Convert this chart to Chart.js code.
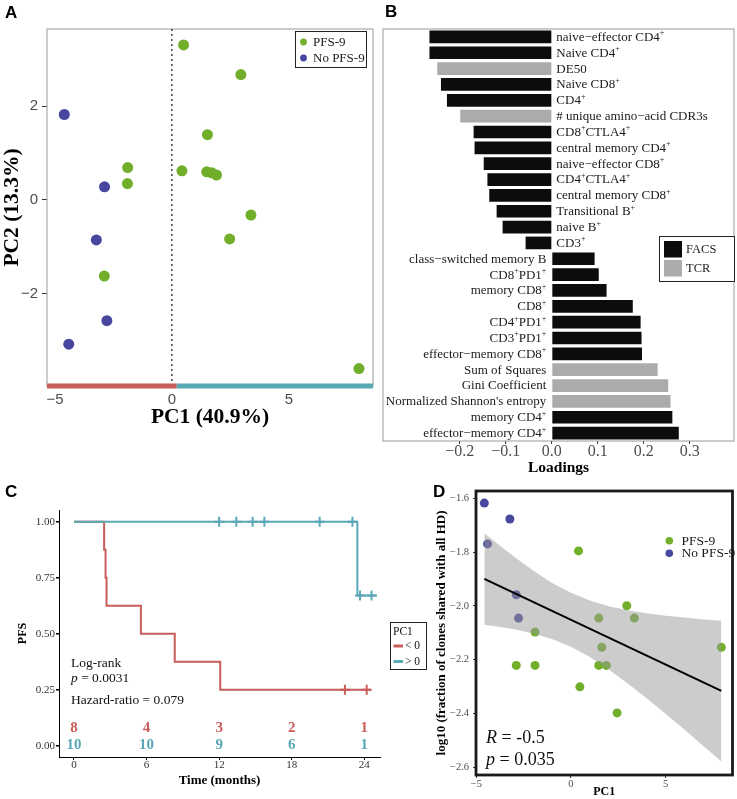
<!DOCTYPE html>
<html lang="en">
<head>
<meta charset="UTF-8">
<title>PCA, loadings, PFS and shared clones</title>
<style>
  body { margin: 0; background: #fff; width: 737px; height: 799px; position: relative; overflow: hidden; }
  canvas { position: absolute; }
</style>
</head>
<body>
<canvas id="pca" width="380" height="430" style="left:0;top:0"></canvas>
<canvas id="loadings" width="357" height="480" style="left:380px;top:0"></canvas>
<canvas id="km" width="430" height="329" style="left:0;top:470px"></canvas>
<canvas id="shared" width="309" height="329" style="left:428px;top:470px"></canvas>

<script src="https://cdn.jsdelivr.net/npm/chart.js@4"></script>
<script>
  // ---- A: PCA scores
  const pfsPC1   = [0.50, 2.95, 1.52, -1.89, -1.90, 0.43, 1.49, 1.70, 1.91, 3.38, 2.47, -2.89, 8.00];
  const pfsPC2   = [3.30, 2.67, 1.39, 0.69, 0.35, 0.62, 0.60, 0.58, 0.53, -0.32, -0.83, -1.62, -3.59];
  const noPfsPC1 = [-4.60, -2.88, -3.23, -2.78, -4.41];
  const noPfsPC2 = [1.82, 0.28, -0.85, -2.57, -3.07];
  const pcaXTicks = [-5, 0, 5];
  const pcaYTicks = [-2, 0, 2];
  const pcaXRange = [-5.34, 8.6];
  const pcaYRange = [-3.96, 3.64];
  const pcaSplit = 0.2;

  // ---- B: PC1 loadings
  const loadLabels = ['naive−effector CD4⁺', 'Naive CD4⁺', 'DE50', 'Naive CD8⁺', 'CD4⁺',
    '# unique amino−acid CDR3s', 'CD8⁺CTLA4⁺', 'central memory CD4⁺', 'naive−effector CD8⁺',
    'CD4⁺CTLA4⁺', 'central memory CD8⁺', 'Transitional B⁺', 'naive B⁺', 'CD3⁺',
    'class−switched memory B', 'CD8⁺PD1⁺', 'memory CD8⁺', 'CD8⁺', 'CD4⁺PD1⁺', 'CD3⁺PD1⁺',
    'effector−memory CD8⁺', 'Sum of Squares', 'Gini Coefficient', "Normalized Shannon's entropy",
    'memory CD4⁺', 'effector−memory CD4⁺'];
  const loadValues = [-0.266, -0.266, -0.249, -0.241, -0.228, -0.199, -0.170, -0.168, -0.148,
    -0.140, -0.136, -0.120, -0.107, -0.057, 0.093, 0.102, 0.119, 0.176, 0.193, 0.195,
    0.196, 0.230, 0.253, 0.258, 0.262, 0.276];
  const loadSource = ['FACS', 'FACS', 'TCR', 'FACS', 'FACS', 'TCR', 'FACS', 'FACS', 'FACS',
    'FACS', 'FACS', 'FACS', 'FACS', 'FACS', 'FACS', 'FACS', 'FACS', 'FACS', 'FACS', 'FACS',
    'FACS', 'TCR', 'TCR', 'TCR', 'FACS', 'FACS'];
  const loadTicks = [-0.2, -0.1, 0, 0.1, 0.2, 0.3];

  // ---- C: Kaplan-Meier PFS by PC1 sign
  const kmLowT  = [0, 2.49, 2.61, 2.69, 5.53, 8.33, 12.09, 24.54];
  const kmLowS  = [1, 0.875, 0.75, 0.625, 0.5, 0.375, 0.25, 0.25];
  const kmHighT = [0, 23.43, 25.04];
  const kmHighS = [1, 0.67, 0.67];
  const censLowT  = [22.4, 24.2];
  const censLowS  = [0.25, 0.25];
  const censHighT = [12.0, 13.42, 14.77, 15.74, 20.31, 23.02, 23.65, 24.6];
  const censHighS = [1, 1, 1, 1, 1, 1, 0.67, 0.67];
  const riskTimes = [0, 6, 12, 18, 24];
  const riskLow   = [8, 4, 3, 2, 1];
  const riskHigh  = [10, 10, 9, 6, 1];
  const kmXTicks = [0, 6, 12, 18, 24];
  const kmYTicks = [0, 0.25, 0.5, 0.75, 1];

  // ---- D: shared clones vs PC1
  const dPfsPC1    = [0.40, 2.95, 1.47, 3.35, -1.90, 1.63, 7.95, -2.89, -1.90, 1.47, 1.87, 0.47, 2.44];
  const dPfsShared = [-1.795, -1.999, -2.045, -2.045, -2.097, -2.154, -2.154, -2.221, -2.221, -2.221, -2.221, -2.301, -2.398];
  const dNoPfsPC1    = [-4.58, -3.23, -4.41, -2.89, -2.77];
  const dNoPfsShared = [-1.617, -1.676, -1.769, -1.958, -2.045];
  const fitX = [-4.58, 7.95];
  const fitY = [-1.899, -2.316];
  const bandX     = [-4.58, -4, -3, -2, -1, 0, 1, 2, 3, 4, 5, 6, 7, 7.95];
  const bandUpper = [-1.729, -1.762, -1.817, -1.868, -1.914, -1.951, -1.980, -2.001, -2.016, -2.027, -2.036, -2.043, -2.050, -2.055];
  const bandLower = [-2.070, -2.075, -2.087, -2.102, -2.123, -2.152, -2.190, -2.236, -2.288, -2.343, -2.401, -2.460, -2.521, -2.579];
  const dXTicks = [-5, 0, 5];
  const dYTicks = [-2.6, -2.4, -2.2, -2.0, -1.8, -1.6];

  const GREEN = '#71AE2A', BLUE = '#4747A0', RED = '#C95D5A', TEAL = '#5AA8B6';
  const SERIF = '"Liberation Serif", "Times New Roman", serif';
  const SANS = '"Liberation Sans", Arial, sans-serif';
  Chart.defaults.font.family = SERIF;
  Chart.defaults.animation = false;

  const pts = (xs, ys) => xs.map((x, i) => ({ x: x, y: ys[i] }));
  const minus = s => String(s).replace('-', '−');
  const fixTicks = list => scale => { scale.ticks = list.map(v => ({ value: v })); };

  // box round the plot panel
  function frame(color, width) {
    return {
      id: 'frame',
      beforeDatasetsDraw(chart) {
        const a = chart.chartArea, ctx = chart.ctx;
        ctx.save();
        ctx.strokeStyle = color;
        ctx.lineWidth = width;
        ctx.strokeRect(a.left, a.top, a.right - a.left, a.bottom - a.top);
        ctx.restore();
      }
    };
  }

  // free text; each item is a row of parts drawn left to right
  function textLayer(items) {
    return {
      id: 'textLayer',
      afterDraw(chart) {
        const ctx = chart.ctx;
        ctx.save();
        ctx.textBaseline = 'alphabetic';
        items.forEach(it => {
          const pos = typeof it.at === 'function' ? it.at(chart) : it.at;
          ctx.font = it.parts[0].font;
          let w = 0;
          it.parts.forEach(p => { ctx.font = p.font; w += ctx.measureText(p.text).width; });
          let x = it.align === 'center' ? pos[0] - w / 2 : pos[0];
          ctx.textBaseline = it.baseline || 'middle';
          it.parts.forEach(p => {
            ctx.font = p.font;
            ctx.fillStyle = p.color || '#111';
            ctx.textAlign = 'left';
            ctx.fillText(p.text, x, pos[1]);
            x += ctx.measureText(p.text).width;
          });
        });
        ctx.restore();
      }
    };
  }

  const letter = (t, x, y) => ({ at: [x, y], baseline: 'alphabetic', parts: [{ text: t, font: 'bold 17px ' + SANS, color: '#000' }] });

  // ================= A =================
  const legendA = {
    id: 'legendA',
    afterDraw(chart) {
      const ctx = chart.ctx;
      ctx.save();
      ctx.fillStyle = '#fff';
      ctx.fillRect(295.5, 31.5, 71, 36);
      ctx.strokeStyle = '#222';
      ctx.lineWidth = 1;
      ctx.strokeRect(295.5, 31.5, 71, 36);
      ctx.font = '13px ' + SERIF;
      ctx.textBaseline = 'middle';
      [0, 1].forEach(i => {
        const ds = chart.data.datasets[i];
        const y = 42 + i * 16;
        ctx.fillStyle = ds.backgroundColor;
        ctx.beginPath();
        ctx.arc(303.5, y, 3.4, 0, Math.PI * 2);
        ctx.fill();
        ctx.fillStyle = '#1a1a1a';
        ctx.fillText(ds.label, 313, y + 0.5);
      });
      ctx.restore();
    }
  };

  new Chart(document.getElementById('pca'), {
    type: 'scatter',
    data: {
      datasets: [
        { label: 'PFS-9', data: pts(pfsPC1, pfsPC2), backgroundColor: GREEN, pointRadius: 5.5, borderWidth: 0, order: 1 },
        { label: 'No PFS-9', data: pts(noPfsPC1, noPfsPC2), backgroundColor: BLUE, pointRadius: 5.5, borderWidth: 0, order: 1 },
        { type: 'line', data: [{ x: 0, y: pcaYRange[0] }, { x: 0, y: pcaYRange[1] }],
          borderColor: '#000', borderWidth: 1.1, borderDash: [2, 3], pointRadius: 0, order: 2 },
        { type: 'line', data: [{ x: pcaXRange[0], y: pcaYRange[0] }, { x: pcaSplit, y: pcaYRange[0] }],
          borderColor: RED, borderWidth: 5, pointRadius: 0, clip: false, order: 0 },
        { type: 'line', data: [{ x: pcaSplit, y: pcaYRange[0] }, { x: pcaXRange[1], y: pcaYRange[0] }],
          borderColor: TEAL, borderWidth: 5, pointRadius: 0, clip: false, order: 0 }
      ]
    },
    options: {
      responsive: false,
      layout: { padding: { top: 29, right: 7, left: 0, bottom: 0 } },
      plugins: { legend: { display: false }, tooltip: { enabled: false } },
      scales: {
        x: {
          type: 'linear', min: pcaXRange[0], max: pcaXRange[1],
          afterBuildTicks: fixTicks(pcaXTicks),
          afterFit: s => { s.height = 44; },
          grid: { display: false, drawTicks: false },
          border: { display: false },
          ticks: { padding: 6.5, color: '#4d4d4d', font: { family: SANS, size: 15, lineHeight: 1 }, callback: v => minus(v) },
          title: { display: true, text: 'PC1 (40.9%)', color: '#000', padding: 0,
                   font: { family: SERIF, size: 21.5, weight: 'bold' } }
        },
        y: {
          min: pcaYRange[0], max: pcaYRange[1],
          afterBuildTicks: fixTicks(pcaYTicks),
          afterFit: s => { s.width = 47; },
          grid: { drawOnChartArea: false, tickLength: 5, color: '#333' },
          border: { display: false },
          ticks: { padding: 4, color: '#4d4d4d', font: { family: SANS, size: 15, lineHeight: 1 }, callback: v => minus(v) },
          title: { display: true, text: 'PC2 (13.3%)', color: '#000', padding: 0,
                   font: { family: SERIF, size: 21.5, weight: 'bold' } }
        }
      }
    },
    plugins: [frame('#9a9a9a', 1), legendA, textLayer([letter('A', 5, 18.3)])]
  });

  // ================= B =================
  function richLabel(ctx, str, x, y, size, align) {
    const parts = str.split('⁺');
    const base = size + 'px ' + SERIF, sup = (size * 0.62) + 'px ' + SERIF;
    let w = 0;
    parts.forEach((p, k) => {
      ctx.font = base; w += ctx.measureText(p).width;
      if (k < parts.length - 1) { ctx.font = sup; w += ctx.measureText('+').width; }
    });
    let cx = align === 'right' ? x - w : x;
    parts.forEach((p, k) => {
      ctx.font = base; ctx.fillText(p, cx, y); cx += ctx.measureText(p).width;
      if (k < parts.length - 1) {
        ctx.font = sup; ctx.fillText('+', cx, y - size * 0.32); cx += ctx.measureText('+').width;
      }
    });
  }

  const barLabels = {
    id: 'barLabels',
    afterDatasetsDraw(chart) {
      const ctx = chart.ctx, xs = chart.scales.x, ys = chart.scales.y;
      const x0 = xs.getPixelForValue(0);
      ctx.save();
      ctx.fillStyle = '#1a1a1a';
      ctx.textBaseline = 'middle';
      ctx.textAlign = 'left';
      chart.data.labels.forEach((lab, i) => {
        const y = ys.getPixelForValue(i) + 0.5;
        const v = chart.data.datasets[0].data[i];
        if (v < 0) richLabel(ctx, lab, x0 + 4.5, y, 13, 'left');
        else richLabel(ctx, lab, x0 - 5.5, y, 13, 'right');
      });
      // legend
      ctx.fillStyle = '#fff';
      ctx.fillRect(279.5, 236.5, 75, 45);
      ctx.strokeStyle = '#222';
      ctx.lineWidth = 1;
      ctx.strokeRect(279.5, 236.5, 75, 45);
      [['FACS', '#0c0c0c'], ['TCR', '#ababab']].forEach((e, k) => {
        const y = 241 + k * 19;
        ctx.fillStyle = e[1];
        ctx.fillRect(284, y, 18, 16.5);
        ctx.fillStyle = '#1a1a1a';
        ctx.font = '12.5px ' + SERIF;
        ctx.fillText(e[0], 306, y + 8.5);
      });
      ctx.restore();
    }
  };

  new Chart(document.getElementById('loadings'), {
    type: 'bar',
    data: {
      labels: loadLabels,
      datasets: [{
        data: loadValues,
        backgroundColor: loadSource.map(s => s === 'FACS' ? '#0c0c0c' : '#ababab'),
        borderWidth: 0,
        barPercentage: 0.8,
        categoryPercentage: 1
      }]
    },
    options: {
      indexAxis: 'y',
      responsive: false,
      layout: { padding: { top: 29, right: 3, left: 3, bottom: 0 } },
      plugins: { legend: { display: false }, tooltip: { enabled: false } },
      scales: {
        y: { display: false },
        x: {
          type: 'linear', min: -0.367, max: 0.396,
          afterBuildTicks: fixTicks(loadTicks),
          afterFit: s => { s.height = 39; },
          grid: { drawOnChartArea: false, tickLength: 3, color: '#333' },
          border: { display: false },
          ticks: { padding: 0, color: '#4d4d4d', font: { size: 16, lineHeight: 1 }, callback: v => minus(v.toFixed(1)) },
          title: { display: true, text: 'Loadings', color: '#000', padding: { top: 0, bottom: 2.5 },
                   font: { size: 15.5, weight: 'bold' } }
        }
      }
    },
    plugins: [frame('#9a9a9a', 1), barLabels, textLayer([letter('B', 5, 16.7)])]
  });

  // ================= C =================
  const kmText = [
    letter('C', 5, 26.7),
    { at: [71, 193], parts: [{ text: 'Log-rank', font: '13.5px ' + SERIF }] },
    { at: [71, 208.5], parts: [{ text: 'p', font: 'italic 13.5px ' + SERIF }, { text: ' = 0.0031', font: '13.5px ' + SERIF }] },
    { at: [71, 230], parts: [{ text: 'Hazard-ratio = 0.079', font: '13.5px ' + SERIF }] }
  ];
  riskTimes.forEach((t, i) => {
    kmText.push({ align: 'center', at: c => [c.scales.x.getPixelForValue(t), c.scales.y.getPixelForValue(0.078)],
      parts: [{ text: String(riskLow[i]), font: 'bold 15px ' + SERIF, color: RED }] });
    kmText.push({ align: 'center', at: c => [c.scales.x.getPixelForValue(t), c.scales.y.getPixelForValue(0.002)],
      parts: [{ text: String(riskHigh[i]), font: 'bold 15px ' + SERIF, color: TEAL }] });
  });
  kmText.push({ at: [393, 162], parts: [{ text: 'PC1', font: '11.5px ' + SERIF }] });
  kmText.push({ at: [405, 176], parts: [{ text: '< 0', font: '11.5px ' + SERIF }] });
  kmText.push({ at: [405, 191.5], parts: [{ text: '> 0', font: '11.5px ' + SERIF }] });

  const legendC = {
    id: 'legendC',
    afterDraw(chart) {
      const ctx = chart.ctx;
      ctx.save();
      ctx.strokeStyle = '#222';
      ctx.lineWidth = 1;
      ctx.strokeRect(390.5, 152.5, 36, 47);
      ctx.lineWidth = 3;
      [[RED, 176], [TEAL, 191.5]].forEach(k => {
        ctx.strokeStyle = k[0];
        ctx.beginPath(); ctx.moveTo(393.5, k[1]); ctx.lineTo(403, k[1]); ctx.stroke();
      });
      ctx.restore();
    }
  };

  const cross = (color, xs, ys) => ({ data: pts(xs, ys), pointStyle: 'cross', pointRadius: 5, pointBorderWidth: 2,
    borderColor: color, backgroundColor: color, showLine: false, clip: false, order: 0 });

  new Chart(document.getElementById('km'), {
    type: 'scatter',
    data: {
      datasets: [
        { type: 'line', data: pts(kmLowT, kmLowS), stepped: true, borderColor: RED, borderWidth: 2, pointRadius: 0, order: 2 },
        { type: 'line', data: pts(kmHighT, kmHighS), stepped: true, borderColor: TEAL, borderWidth: 2, pointRadius: 0, order: 1 },
        cross(RED, censLowT, censLowS),
        cross(TEAL, censHighT, censHighS)
      ]
    },
    options: {
      responsive: false,
      layout: { padding: { top: 40, right: 50, left: 0, bottom: 0 } },
      plugins: { legend: { display: false }, tooltip: { enabled: false } },
      scales: {
        x: {
          type: 'linear', min: -1.24, max: 25.3,
          afterBuildTicks: fixTicks(kmXTicks),
          afterFit: s => { s.height = 42; },
          grid: { drawOnChartArea: false, tickLength: 3, color: '#000' },
          border: { display: true, color: '#000', width: 1 },
          ticks: { padding: 0, color: '#333', font: { size: 11, lineHeight: 1 } },
          title: { display: true, text: 'Time (months)', color: '#000', padding: { top: 0, bottom: 10.7 },
                   font: { size: 13, weight: 'bold' } }
        },
        y: {
          min: -0.05, max: 1.052,
          afterBuildTicks: fixTicks(kmYTicks),
          afterFit: s => { s.width = 59; },
          grid: { drawOnChartArea: false, tickLength: 3, color: '#000', lineWidth: 1.5 },
          border: { display: true, color: '#000', width: 1 },
          ticks: { padding: 1, color: '#333', font: { size: 11, lineHeight: 1 }, callback: v => v.toFixed(2) },
          title: { display: true, text: 'PFS', color: '#000', padding: { top: 16, bottom: 0 },
                   font: { size: 12, weight: 'bold' } }
        }
      }
    },
    plugins: [legendC, textLayer(kmText)]
  });

  // ================= D =================
  const legendD = {
    id: 'legendD',
    afterDraw(chart) {
      const ctx = chart.ctx;
      ctx.save();
      ctx.font = '13.5px ' + SERIF;
      ctx.textBaseline = 'middle';
      [0, 1].forEach(i => {
        const ds = chart.data.datasets[i];
        const y = 70.7 + i * 12.6;
        ctx.fillStyle = ds.backgroundColor;
        ctx.beginPath(); ctx.arc(241.3, y, 3.8, 0, Math.PI * 2); ctx.fill();
        ctx.fillStyle = '#1a1a1a';
        ctx.fillText(ds.label, 253.5, y + 0.5);
      });
      ctx.restore();
    }
  };

  new Chart(document.getElementById('shared'), {
    type: 'scatter',
    data: {
      datasets: [
        { label: 'PFS-9', data: pts(dPfsPC1, dPfsShared), backgroundColor: GREEN, pointRadius: 4.5, borderWidth: 0, order: 3 },
        { label: 'No PFS-9', data: pts(dNoPfsPC1, dNoPfsShared), backgroundColor: BLUE, pointRadius: 4.5, borderWidth: 0, order: 3 },
        { type: 'line', data: pts(bandX, bandUpper), borderWidth: 0, pointRadius: 0, fill: false, order: 1 },
        { type: 'line', data: pts(bandX, bandLower), borderWidth: 0, pointRadius: 0, fill: '-1',
          backgroundColor: 'rgba(153,153,153,0.5)', order: 1 },
        { type: 'line', data: pts(fitX, fitY), borderColor: '#000', borderWidth: 2, pointRadius: 0, order: 0 }
      ]
    },
    options: {
      responsive: false,
      layout: { padding: { top: 21, right: 2, left: 0, bottom: 0 } },
      plugins: { legend: { display: false }, tooltip: { enabled: false } },
      scales: {
        x: {
          type: 'linear', min: -5.02, max: 8.54,
          afterBuildTicks: fixTicks(dXTicks),
          afterFit: s => { s.height = 24; },
          grid: { drawOnChartArea: false, tickLength: 3, color: '#333' },
          border: { display: false },
          ticks: { padding: 1, color: '#4d4d4d', font: { size: 10.5, lineHeight: 1 }, callback: v => minus(v) },
          title: { display: true, text: 'PC1', color: '#000', padding: 0, font: { size: 12, weight: 'bold' } }
        },
        y: {
          min: -2.629, max: -1.572,
          afterBuildTicks: fixTicks(dYTicks),
          afterFit: s => { s.width = 48; },
          grid: { drawOnChartArea: false, tickLength: 3, color: '#333' },
          border: { display: false },
          ticks: { padding: 4, color: '#4d4d4d', font: { size: 10.5, lineHeight: 1 }, callback: v => minus(v.toFixed(1)) },
          title: { display: true, text: 'log10 (fraction of clones shared with all HD)', color: '#000',
                   padding: { top: 6.2, bottom: 0 }, font: { size: 13, weight: 'bold' } }
        }
      }
    },
    plugins: [frame('#1a1a1a', 2.8), legendD, textLayer([
      letter('D', 5, 26.5),
      { at: [58, 268], parts: [{ text: 'R', font: 'italic 18px ' + SERIF }, { text: ' = -0.5', font: '18px ' + SERIF }] },
      { at: [58, 290], parts: [{ text: 'p', font: 'italic 18px ' + SERIF }, { text: ' = 0.035', font: '18px ' + SERIF }] }
    ])]
  });
</script>
</body>
</html>
